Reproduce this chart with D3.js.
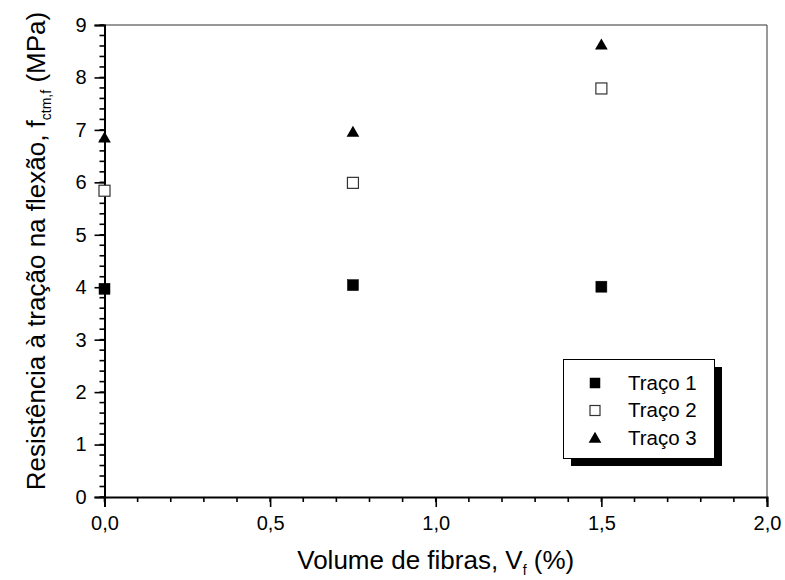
<!DOCTYPE html>
<html>
<head>
<meta charset="utf-8">
<script src="https://cdn.jsdelivr.net/npm/d3@7"></script>
<style>
  body { margin: 0; background: #fff; }
  text { font-family: "Liberation Sans", Arial, sans-serif; fill: #000; }
</style>
</head>
<body>
<svg id="chart" width="785" height="580"></svg>
<script>
const fibras = [0, 0.75, 1.5];
const traco1 = [3.97, 4.04, 4.01];
const traco2 = [5.84, 5.99, 7.79];
const traco3 = [6.85, 6.96, 8.62];
const seriesNames = ["Traço 1", "Traço 2", "Traço 3"];
const xTicks = [0, 0.5, 1.0, 1.5, 2.0];
const yTicks = [0, 1, 2, 3, 4, 5, 6, 7, 8, 9];

(function () {
const svg = d3.select("#chart");
const pL = 104.5, pR = 767, pT = 25, pB = 497;
const x = d3.scaleLinear().domain([0, 2]).range([pL, pR]);
const y = d3.scaleLinear().domain([0, 9]).range([pB, pT]);
const fmt = d => d3.format(".1f")(d).replace(".", ",");

// frame top/right
svg.append("line").attr("x1", pL).attr("x2", pR).attr("y1", pT).attr("y2", pT)
  .attr("stroke", "#333").attr("stroke-width", 1.2);
svg.append("line").attr("x1", pR).attr("x2", pR).attr("y1", pT).attr("y2", pB)
  .attr("stroke", "#555").attr("stroke-width", 1.2);

// minor ticks
const xMinor = d3.range(0, 2.0001, 0.1);
svg.append("g").selectAll("line").data(xMinor).join("line")
  .attr("x1", d => x(d)).attr("x2", d => x(d)).attr("y1", pB).attr("y2", pB + 5)
  .attr("stroke", "#000").attr("stroke-width", 1.6);
const yMinor = d3.range(0, 9.0001, 0.2);
svg.append("g").selectAll("line").data(yMinor).join("line")
  .attr("x1", pL - 5).attr("x2", pL).attr("y1", d => y(d)).attr("y2", d => y(d))
  .attr("stroke", "#000").attr("stroke-width", 1.6);

// axes
const xAxis = svg.append("g").attr("transform", `translate(0,${pB})`)
  .call(d3.axisBottom(x).tickValues(xTicks).tickFormat(fmt).tickSize(10).tickPadding(9));
const yAxis = svg.append("g").attr("transform", `translate(${pL},0)`)
  .call(d3.axisLeft(y).tickValues(yTicks).tickFormat(d3.format("d")).tickSize(10).tickPadding(8));
[xAxis, yAxis].forEach(g => {
  g.select(".domain").attr("stroke", "#000").attr("stroke-width", 2);
  g.selectAll(".tick line").attr("stroke", "#000").attr("stroke-width", 1.6);
  g.selectAll(".tick text").attr("font-size", 20).attr("font-family", '"Liberation Sans", Arial, sans-serif').attr("fill", "#000");
});

// axis titles
const xt = svg.append("text").attr("x", (pL + pR) / 2).attr("y", 569)
  .attr("text-anchor", "middle").attr("font-size", 26);
xt.append("tspan").text("Volume de fibras, V");
xt.append("tspan").attr("font-size", 14).attr("dy", 6).text("f");
xt.append("tspan").attr("dy", -6).text(" (%)");

const yt = svg.append("text").attr("transform", `translate(45,251) rotate(-90)`)
  .attr("text-anchor", "middle").attr("font-size", 26);
yt.append("tspan").text("Resistência à tração na flexão, f");
yt.append("tspan").attr("font-size", 14).attr("dy", 6).text("ctm,f");
yt.append("tspan").attr("dy", -6).text(" (MPa)");

// markers
const sq = 11;
function drawSquare(g, cx, cy, filled, s) {
  s = s || sq;
  g.append("rect").attr("x", cx - s / 2).attr("y", cy - s / 2).attr("width", s).attr("height", s)
    .attr("fill", filled ? "#000" : "#fff").attr("stroke", filled ? "#000" : "#333").attr("stroke-width", filled ? 0.5 : 1.2);
}
const tri = d3.symbol().type(d3.symbolTriangle).size(70);
function drawTriangle(g, cx, cy) {
  g.append("path").attr("d", tri()).attr("transform", `translate(${cx},${cy + 1})`).attr("fill", "#000");
}
const pts = svg.append("g");
fibras.forEach((f, i) => {
  drawSquare(pts, x(f), y(traco1[i]), true);
  drawSquare(pts, x(f), y(traco2[i]), false);
  drawTriangle(pts, x(f), y(traco3[i]));
});

// legend
const lg = svg.append("g");
lg.append("rect").attr("x", 571).attr("y", 367).attr("width", 151).attr("height", 99).attr("fill", "#000");
lg.append("rect").attr("x", 563.5).attr("y", 359.5).attr("width", 151).attr("height", 99)
  .attr("fill", "#fff").attr("stroke", "#000").attr("stroke-width", 1);
const rows = [383, 410.5, 438];
drawSquare(lg, 595, rows[0], true, 10);
drawSquare(lg, 595, rows[1], false, 10);
drawTriangle(lg, 595, rows[2]);
seriesNames.forEach((n, i) => {
  lg.append("text").attr("x", 628).attr("y", rows[i] + 6.5).attr("font-size", 20.5).text(n);
});
})();
</script>
</body>
</html>
